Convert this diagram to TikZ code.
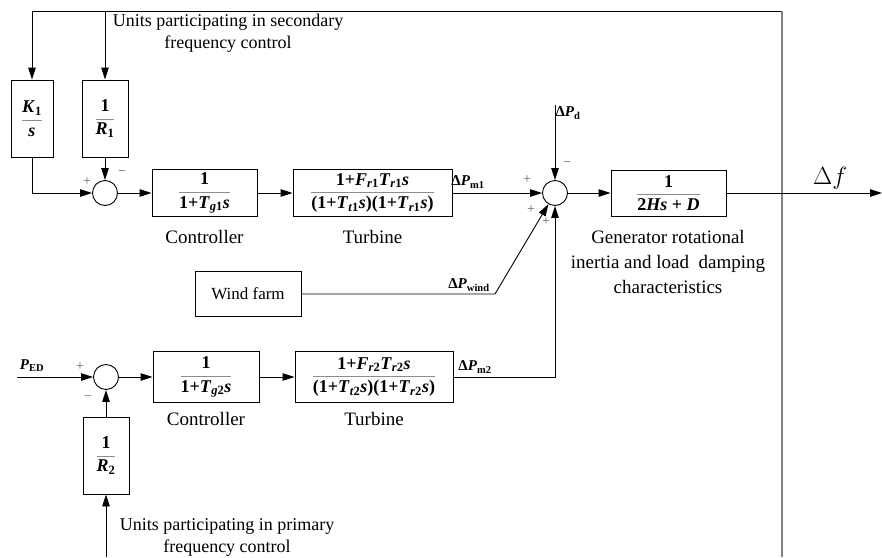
\documentclass[tikz,border=0pt]{standalone}
\usepackage{fontspec}
\setmainfont{Liberation Serif}
\usetikzlibrary{arrows.meta,positioning}
\newcommand{\tf}[2]{$\color{black!45}\displaystyle\frac{\hbox{\color{black}\bfseries #1}}{\hbox{\color{black}\bfseries #2}}$}
\newcommand{\vi}[1]{\textit{#1}}
\newcommand{\sub}[1]{\textsubscript{#1}}
\begin{document}
\begin{tikzpicture}[x=1pt, y=-1pt, >={Triangle[length=12pt,width=7.5pt]}, line width=0.9pt,
    blk/.style={draw, inner sep=0pt, font=\fontsize{18}{20}\selectfont},
    sum/.style={draw, circle, minimum size=25pt, inner sep=0pt},
    lbl/.style={font=\fontsize{19}{25}\selectfont, align=center},
    sgn/.style={font=\fontsize{14}{14}\selectfont, text=black!60, inner sep=0pt},
    sig/.style={font=\fontsize{15}{15}\selectfont\bfseries, inner sep=0pt}]
    \useasboundingbox (0,0) rectangle (882,557);
    \coordinate (tl) at (32,11);
    \coordinate (tr) at (782,11);
    \coordinate (br) at (782,557);
    \coordinate (pd) at (555,105);
    \coordinate (ped) at (17,377);
    \coordinate (wc) at (495,294);
    \coordinate (out) at (882,193);
    \coordinate (bot) at (106,557);

    \node[blk, minimum width=42pt, minimum height=77pt] (k1) at (32,118.5) {\tf{\vi{K}\sub{1}}{\vi{s}}};
    \node[blk, minimum width=46pt, minimum height=77pt] (r1) at (105,118.5) {\tf{1}{\vi{R}\sub{1}}};
    \node[sum] (s1) at (105,193) {};
    \node[blk, minimum width=105pt, minimum height=47pt] (c1) at (204.5,193) {\tf{1}{1+\vi{T}\sub{\vi{g}1}\vi{s}}};
    \node[blk, minimum width=159pt, minimum height=47pt] (t1) at (372.5,193) {\tf{1+\vi{F}\sub{\vi{r}1}\vi{T}\sub{\vi{r}1}\vi{s}}{(1+\vi{T}\sub{\vi{t}1}\vi{s})(1+\vi{T}\sub{\vi{r}1}\vi{s})}};
    \node[sum] (s2) at (555,193) {};
    \node[blk, minimum width=115pt, minimum height=46pt] (gen) at (668.5,193) {\tf{1}{2\vi{Hs} + \vi{D}}};
    \node[blk, minimum width=106pt, minimum height=45pt, font=\fontsize{17}{20}\selectfont] (wind) at (248,294) {Wind farm};
    \node[sum] (s3) at (106,377) {};
    \node[blk, minimum width=106pt, minimum height=51pt] (c2) at (206,377) {\tf{1}{1+\vi{T}\sub{\vi{g}2}\vi{s}}};
    \node[blk, minimum width=158pt, minimum height=51pt] (t2) at (374,377) {\tf{1+\vi{F}\sub{\vi{r}2}\vi{T}\sub{\vi{r}2}\vi{s}}{(1+\vi{T}\sub{\vi{t}2}\vi{s})(1+\vi{T}\sub{\vi{r}2}\vi{s})}};
    \node[blk, minimum width=46pt, minimum height=77pt] (r2) at (106,455.5) {\tf{1}{\vi{R}\sub{2}}};

    \node[lbl] (c1lbl) at (204.5,237) {Controller};
    \node[lbl] (t1lbl) at (372.5,237) {Turbine};
    \node[lbl] (c2lbl) at (206,419) {Controller};
    \node[lbl] (t2lbl) at (374,419) {Turbine};
    \node[lbl] (genlbl) at (668,262) {Generator rotational\\inertia and load\ \ damping\\characteristics};
    \node[lbl, font=\fontsize{18}{22}\selectfont] (seclbl) at (228,33) {Units participating in secondary\\frequency control};
    \node[lbl, font=\fontsize{18}{22}\selectfont] (prilbl) at (227,537) {Units participating in primary\\frequency control};

    \node[sig] (pm1) at (468,182) {Δ\vi{P}\sub{m1}};
    \node[sig] (pdl) at (568,113) {Δ\vi{P}\sub{d}};
    \node[sig] (pwl) at (469,285) {Δ\vi{P}\sub{wind}};
    \node[sig] (pm2) at (475,367) {Δ\vi{P}\sub{m2}};
    \node[sig] (pedl) at (32,366) {\vi{P}\sub{ED}};
    \node[font=\fontsize{24}{24}\selectfont] (df) at (830,178) {$\Delta f$};

    \node[sgn] (p1) at (87,182) {+};
    \node[sgn] (m1) at (122,173) {−};
    \node[sgn] (p2) at (527,180) {+};
    \node[sgn] (m2) at (567,164) {−};
    \node[sgn] (p3) at (531,210) {+};
    \node[sgn] (p4) at (546,222) {+};
    \node[sgn] (p5) at (80,367) {+};
    \node[sgn] (m3) at (88,398) {−};

    \draw (tl) -- (tr);
    \draw[black!50, line width=1.6pt] (tr) -- (br);
    \draw[->] (tl) -- (k1.north);
    \draw[->] (tl -| r1) -- (r1);
    \draw[->] (k1) |- (s1);
    \draw[->] (r1) -- (s1);
    \draw[->] (s1) -- (c1);
    \draw[->] (c1) -- (t1);
    \draw[->] (t1) -- (s2);
    \draw[->] (pd) -- (s2);
    \draw[->] (s2) -- (gen);
    \draw[->] (gen) -- (out);
    \draw[->] (wind) -- (wc) -- (s2);
    \draw[->] (t2) -| (s2);
    \draw[->] (ped) -- (s3);
    \draw[->] (s3) -- (c2);
    \draw[->] (c2) -- (t2);
    \draw[->] (r2) -- (s3);
    \draw[->] (bot) -- (r2);
\end{tikzpicture}
\end{document}
